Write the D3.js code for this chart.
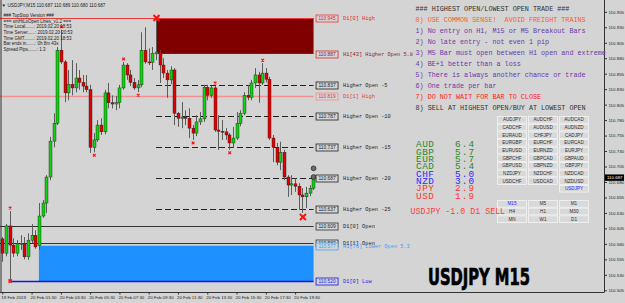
<!DOCTYPE html>
<html>
<head>
<meta charset="utf-8">
<script src="https://cdn.jsdelivr.net/npm/d3@7"></script>
<style>
  body { margin: 0; background: #d4d4d4; }
  svg { display: block; }
</style>
</head>
<body>
<script>
// ---- chart data (USDJPY M15, 19 Feb 23:30 -> 20 Feb 21:00) ----
var opens  = [110.588,110.565,110.609,110.578,110.565,110.580,110.581,110.559,110.586,110.594,
              110.577,110.625,110.646,110.688,110.746,110.775,110.893,110.874,110.824,110.838,
              110.832,110.848,110.841,110.835,110.829,110.736,110.748,110.772,110.761,110.824,
              110.808,110.806,110.808,110.832,110.869,110.853,110.841,110.832,110.837,110.893,
              110.874,110.873,110.887,110.890,110.869,110.856,110.845,110.861,110.791,110.783,
              110.785,110.783,110.767,110.759,110.777,110.782,110.833,110.820,110.832,110.764,
              110.762,110.761,110.756,110.743,110.751,110.775,110.791,110.820,110.817,110.840,
              110.853,110.840,110.856,110.846,110.751,110.736,110.712,110.728,110.688,110.675,
              110.677,110.673,110.659,110.656,110.662,110.670,110.687];
var highs  = [110.591,110.612,110.633,110.589,110.586,110.594,110.591,110.597,110.612,110.602,
              110.646,110.651,110.691,110.753,110.791,110.898,110.926,110.877,110.861,110.877,
              110.872,110.861,110.853,110.853,110.837,110.759,110.780,110.783,110.829,110.840,
              110.820,110.819,110.837,110.874,110.872,110.861,110.848,110.845,110.922,110.930,
              110.896,110.898,110.945,110.893,110.880,110.861,110.867,110.864,110.793,110.809,
              110.796,110.799,110.772,110.788,110.793,110.837,110.837,110.835,110.835,110.788,
              110.780,110.767,110.759,110.769,110.793,110.796,110.825,110.837,110.845,110.864,
              110.858,110.872,110.864,110.850,110.756,110.743,110.745,110.732,110.691,110.691,
              110.686,110.678,110.670,110.672,110.675,110.690,110.689];
var lows   = [110.551,110.560,110.520,110.559,110.560,110.570,110.555,110.554,110.581,110.572,
              110.570,110.622,110.630,110.683,110.736,110.772,110.871,110.809,110.812,110.820,
              110.825,110.829,110.825,110.825,110.727,110.728,110.745,110.756,110.757,110.799,
              110.799,110.796,110.799,110.829,110.845,110.835,110.829,110.825,110.833,110.871,
              110.869,110.861,110.877,110.840,110.848,110.816,110.838,110.772,110.769,110.767,
              110.772,110.751,110.748,110.754,110.772,110.777,110.812,110.816,110.761,110.732,
              110.748,110.748,110.732,110.735,110.748,110.770,110.788,110.812,110.812,110.832,
              110.808,110.837,110.841,110.748,110.712,110.707,110.699,110.683,110.656,110.659,
              110.664,110.635,110.630,110.638,110.657,110.667,110.680];
var closes = [110.565,110.609,110.578,110.565,110.580,110.581,110.559,110.586,110.594,110.575,
              110.625,110.646,110.688,110.746,110.775,110.893,110.874,110.824,110.838,110.832,
              110.848,110.841,110.835,110.829,110.736,110.748,110.772,110.761,110.824,110.808,
              110.806,110.808,110.832,110.869,110.853,110.841,110.832,110.837,110.893,110.874,
              110.873,110.888,110.890,110.869,110.856,110.845,110.861,110.791,110.783,110.785,
              110.783,110.767,110.759,110.777,110.782,110.833,110.820,110.832,110.764,110.762,
              110.761,110.756,110.743,110.751,110.775,110.791,110.820,110.817,110.840,110.853,
              110.840,110.856,110.846,110.751,110.736,110.712,110.728,110.688,110.675,110.677,
              110.673,110.659,110.656,110.662,110.670,110.687,110.687];

var timeLabels    = ["19 Feb 2019","20 Feb 01:30","20 Feb 03:30","20 Feb 05:30","20 Feb 07:30","20 Feb 09:30",
                     "20 Feb 11:30","20 Feb 13:30","20 Feb 15:30","20 Feb 17:30","20 Feb 19:30"];
var timeLabelBars = [0, 8, 16, 24, 32, 40, 48, 56, 64, 72, 80];
var priceTicks = [110.955,110.930,110.905,110.880,110.855,110.830,110.805,110.780,110.755,110.730,
                  110.705,110.680,110.655,110.630,110.605,110.580,110.555,110.530,110.505];
var lastPrice = 110.687;

// level lines drawn by the indicator
var levelPrices = [110.945, 110.887, 110.837, 110.819, 110.787, 110.737, 110.687, 110.637, 110.609, 110.582, 110.577, 110.520];
var levelNames  = ["D1[0] High", "H1[43] Higher Open 5.8", "Higher Open -5", "D1[1] High", "Higher Open -10",
                   "Higher Open -15", "Higher Open -20", "Higher Open -25", "D1[0] Open", "D1[1] Open",
                   "H1[76] Lower Open 5.3", "D1[0] Low"];
var levelStartBar = [-1, 42, 42, -1, 42, 42, 42, 42, -1, -1, 10, 2];

// fractal markers
var fractalUpBars   = [2, 16, 33, 58, 71];
var fractalDownBars = [25, 37, 52, 62];
var extremeHighBar = 42, extremeLowBar = 82, dayLowBar = 2;
var circlePrices = [110.702, 110.688];

// side panel texts
var infoLines = ["### TopStop Version ###", "=== smHiLoOpen Lines_v1.2 ===",
                 "Time Local.......: 2019.02.20 18:53", "Time Server......: 2019.02.20 20:53",
                 "Time GMT........: 2019.02.20 18:53", "Bar ends in.......: 0h 8m 43s",
                 "Spread Pips.......: 1.3"];
var rules = ["### HIGHEST OPEN/LOWEST OPEN TRADE ###",
             "0) USE COMMON SENSE!  AVOID FREIGHT TRAINS",
             "1) No entry on H1, M15 or M5 Breakout Bars",
             "2) No late entry - not even 1 pip",
             "3) M5 Bar must open between H1 open and extreme",
             "4) BE+1 better than a loss",
             "5) There is always another chance or trade",
             "6) One trade per bar",
             "7) DO NOT WAIT FOR BAR TO CLOSE",
             "8) SELL AT HIGHEST OPEN/BUY AT LOWEST OPEN"];
var currencies = ["AUD", "GBP", "EUR", "CAD", "CHF", "NZD", "JPY", "USD"];
var strength   = [6.4, 5.7, 5.7, 5.4, 5.0, 3.0, 2.9, 1.9];
var signalText = "USDJPY -1.0 D1 SELL";
var pairRows = [["AUDJPY","AUDCHF","AUDCAD"],["CADCHF","AUDUSD","AUDNZD"],["EURAUD","CHFJPY","CADJPY"],
                ["EURGBP","EURCHF","EURCAD"],["EURUSD","EURNZD","EURJPY"],["GBPCHF","GBPCAD","GBPAUD"],
                ["GBPUSD","GBPNZD","GBPJPY"],["NZDJPY","NZDCHF","NZDCAD"],["USDCHF","USDCAD","NZDUSD"],
                [null,null,"USDJPY"]];
var tfRows = [["M15","M5","M1"],["H4","H1","M30"],["MN","W1","D1"]];

// ---- layout ----
var width = 625, height = 303, plotRight = 604, plotBottom = 292;
var svg = d3.select("body").append("svg")
    .attr("width", width)
    .attr("height", height)
    .style("background", "#d4d4d4");

var last = closes.length - 1;
var x = d3.scaleLinear().domain([0, last]).range([2.3, 2.3 + 3.66 * last]);
var y = d3.scaleLinear().domain([110.5022, 110.9741]).range([plotBottom, 0]);
var lineEnd = x(last) - 3.5;   // lines stop just left of the price boxes

svg.append("clipPath").attr("id", "plot")
  .append("rect").attr("width", plotRight).attr("height", plotBottom);
var plot = svg.append("g").attr("clip-path", "url(#plot)");

// rectangles (H1 higher/lower open zones)
plot.append("rect")
    .attr("x", x(42)).attr("width", lineEnd - x(42))
    .attr("y", y(levelPrices[0])).attr("height", y(levelPrices[1]) - y(levelPrices[0]))
    .attr("fill", "#800000");
plot.append("rect")
    .attr("x", x(10)).attr("width", lineEnd - x(10))
    .attr("y", y(levelPrices[10])).attr("height", y(levelPrices[11]) - y(levelPrices[10]))
    .attr("fill", "#1e90ff");

var lineColor = ["#e83a3a", "#a02020", "#222", "#f09090", "#222", "#222", "#222", "#222", "#333", "#333", "#4aa3ff", "#1414e6"];
var textColor = ["#e02828", "#8a1a1a", "#222", "#e03c3c", "#222", "#222", "#222", "#222", "#222", "#222", "#3d9bff", "#1f1fe0"];
var lineWidth = [1, 0, 1, 1.6, 1, 1, 1, 1, 1, 1, 0, 1.4];

levelPrices.forEach(function(p, k) {
    if (lineWidth[k] === 0) return;
    var x0 = levelStartBar[k] < 0 ? 0 : x(levelStartBar[k]);
    plot.append("line")
        .attr("x1", x0).attr("x2", lineEnd)
        .attr("y1", Math.round(y(p)) + 0.5).attr("y2", Math.round(y(p)) + 0.5)
        .attr("stroke", lineColor[k])
        .attr("stroke-width", lineWidth[k])
        .attr("stroke-dasharray", levelNames[k].indexOf("Higher Open -") === 0 ? "6,3" : null);
});

// candles
var bars = d3.range(closes.length);
plot.selectAll(".wick").data(bars).enter().append("line")
    .attr("x1", i => Math.round(x(i)) + 0.5).attr("x2", i => Math.round(x(i)) + 0.5)
    .attr("y1", i => y(highs[i])).attr("y2", i => y(lows[i]))
    .attr("stroke", "#5c5c5c").attr("stroke-width", 1);
plot.selectAll(".body").data(bars).enter().append("rect")
    .attr("x", i => Math.round(x(i)) - 1)
    .attr("width", 3)
    .attr("y", i => y(Math.max(opens[i], closes[i])))
    .attr("height", i => Math.max(1, Math.abs(y(opens[i]) - y(closes[i]))))
    .attr("fill", i => closes[i] >= opens[i] ? "#10d010" : "#e00000")
    .attr("stroke", "#202020").attr("stroke-width", 0.4);

// markers
function cross(g, cx, cy, s, w) {
    g.append("path")
        .attr("d", "M" + (cx - s) + "," + (cy - s) + "L" + (cx + s) + "," + (cy + s) +
                   "M" + (cx - s) + "," + (cy + s) + "L" + (cx + s) + "," + (cy - s))
        .attr("stroke", "#ff1010").attr("stroke-width", w);
}
fractalUpBars.forEach(i => cross(plot, x(i) + 0.5, y(highs[i]) - 3, 1.3, 1.2));
fractalDownBars.forEach(i => cross(plot, x(i) + 0.5, y(lows[i]) + 3, 1.3, 1.2));
cross(plot, x(extremeHighBar) + 0.5, y(highs[extremeHighBar]), 3, 2);
cross(plot, x(extremeLowBar) + 0.5, y(lows[extremeLowBar]) + 4, 3, 2);
cross(plot, x(dayLowBar) + 0.5, y(lows[dayLowBar]), 1.6, 1.6);
circlePrices.forEach(function(p) {
    plot.append("circle").attr("cx", lineEnd).attr("cy", y(p)).attr("r", 2.4)
        .attr("fill", "#6a6a6a").attr("stroke", "#2a2a2a").attr("stroke-width", 0.8);
});

// level labels (price box + name)
var mono = "'Liberation Mono','DejaVu Sans Mono',monospace";
var sans = "'Liberation Sans',Arial,sans-serif";
levelPrices.forEach(function(p, k) {
    var cy = Math.round(y(p)) + 0.5;
    svg.append("rect").attr("x", lineEnd + 2.5).attr("y", cy - 3.5).attr("width", 22).attr("height", 7)
        .attr("fill", "#d4d4d4").attr("stroke", k === 1 ? "#d03030" : lineColor[k]).attr("stroke-width", 0.8);
    svg.append("text").attr("x", lineEnd + 13.5).attr("y", cy + 1.8)
        .attr("text-anchor", "middle").style("font", "4.8px " + sans)
        .attr("fill", textColor[k]).text(p.toFixed(3));
    svg.append("text").attr("x", lineEnd + 29.5).attr("y", cy + 1.8)
        .style("font", "5.3px " + mono).attr("fill", textColor[k]).text(levelNames[k]);
});

// axes frame
svg.append("line").attr("x1", 1).attr("x2", 1).attr("y1", 0).attr("y2", plotBottom).attr("stroke", "#333");
svg.append("line").attr("x1", plotRight + 0.5).attr("x2", plotRight + 0.5).attr("y1", 0).attr("y2", plotBottom + 0.5).attr("stroke", "#333");
svg.append("line").attr("x1", 0).attr("x2", plotRight).attr("y1", plotBottom + 0.5).attr("y2", plotBottom + 0.5).attr("stroke", "#333");

// price axis
var yAxis = svg.append("g").attr("transform", "translate(" + (plotRight + 0.5) + ",0)")
    .call(d3.axisRight(y).tickValues(priceTicks).tickSize(2.5).tickPadding(1.5).tickFormat(d3.format(".3f")));
yAxis.select(".domain").remove();
yAxis.selectAll("line").attr("stroke", "#333");
yAxis.selectAll("text").style("font", "4.4px " + sans).attr("fill", "#222");
svg.append("rect").attr("x", plotRight + 1).attr("y", y(lastPrice) - 3.2).attr("width", 19).attr("height", 6.4).attr("fill", "#000");
svg.append("text").attr("x", plotRight + 3).attr("y", y(lastPrice) + 1.6)
    .style("font", "4.4px " + sans).attr("fill", "#fff").text(lastPrice.toFixed(3));

// time axis
var xAxis = svg.append("g").attr("transform", "translate(0," + (plotBottom + 0.5) + ")")
    .call(d3.axisBottom(x).tickValues(timeLabelBars).tickSize(2).tickPadding(1.5)
        .tickFormat((d, k) => timeLabels[k]));
xAxis.select(".domain").remove();
xAxis.selectAll("line").attr("stroke", "#333");
xAxis.selectAll("text").attr("text-anchor", "start").attr("dx", "-1.5")
    .style("font", "4.4px " + sans).attr("fill", "#222");

// header + info block
svg.append("text").attr("x", 1.5).attr("y", 6.5).style("font", "4.5px " + sans).attr("fill", "#222").text("\u25BC");
svg.append("text").attr("x", 7.5).attr("y", 6.5).style("font", "4.6px " + sans).attr("fill", "#222")
    .text("USDJPY,M15 " + [opens, highs, lows, closes].map(a => a[last].toFixed(3)).join(" "));
svg.selectAll(".info").data(infoLines).enter().append("text")
    .attr("x", 3.5).attr("y", (d, k) => 17.3 + k * 5.55)
    .style("font", "4.5px " + sans).attr("fill", "#1a1a1a").text(d => d);

// rules panel
var ruleColor = ["#303030", "#ff5a2a", "#6a3aa8", "#6a3aa8", "#6a3aa8", "#6a3aa8", "#6a3aa8", "#6a3aa8", "#ff2020", "#303030"];
svg.selectAll(".rule").data(rules).enter().append("text")
    .attr("x", 415.5).attr("y", (d, k) => 11.3 + k * 11)
    .style("font", "6.75px " + mono).attr("fill", (d, k) => ruleColor[k])
    .attr("xml:space", "preserve").text(d => d);

// currency strength
var strengthColor = v => v >= 5.4 ? "#2a8a2a" : v >= 3.0 ? "#2b2bff" : "#ff3535";
currencies.forEach(function(c, k) {
    var cy = 147.3 + k * 7.33;
    svg.append("text").attr("x", 416).attr("y", cy).style("font", "9.4px " + mono)
        .attr("letter-spacing", "0.5").attr("fill", strengthColor(strength[k])).text(c);
    svg.append("text").attr("x", 455).attr("y", cy).style("font", "9.4px " + mono)
        .attr("letter-spacing", "1.1").attr("fill", strengthColor(strength[k])).text(strength[k].toFixed(1));
});

// buttons
var colX = [497.5, 528.5, 559.5];
function buttons(rows, top, step, highlight) {
    rows.forEach(function(row, r) {
        row.forEach(function(label, c) {
            if (!label) return;
            svg.append("rect").attr("x", colX[c]).attr("y", top + r * step).attr("width", 29).attr("height", 6.6)
                .attr("fill", "#d9d9d9").attr("stroke", "#f4f4f4").attr("stroke-width", 0.8);
            svg.append("text").attr("x", colX[c] + 14.5).attr("y", top + r * step + 4.8)
                .attr("text-anchor", "middle").style("font", "4.6px " + sans)
                .attr("fill", label === highlight ? "#2030ff" : "#303030").text(label);
        });
    });
}
buttons(pairRows, 116.6, 7.65, "USDJPY");
buttons(tfRows, 200.6, 7.6, "M15");

svg.append("text").attr("x", 410.5).attr("y", 213.5).style("font", "8.3px " + mono)
    .attr("fill", "#ff3b3b").text(signalText);

// big symbol caption
svg.append("text").attr("x", 428).attr("y", 284.5)
    .attr("textLength", 102).attr("lengthAdjust", "spacingAndGlyphs")
    .style("font", "bold 23.5px 'DejaVu Sans Condensed','DejaVu Sans',sans-serif")
    .attr("fill", "#000").attr("stroke", "#000").attr("stroke-width", 0.7)
    .text("USDJPY M15");
</script>
</body>
</html>
